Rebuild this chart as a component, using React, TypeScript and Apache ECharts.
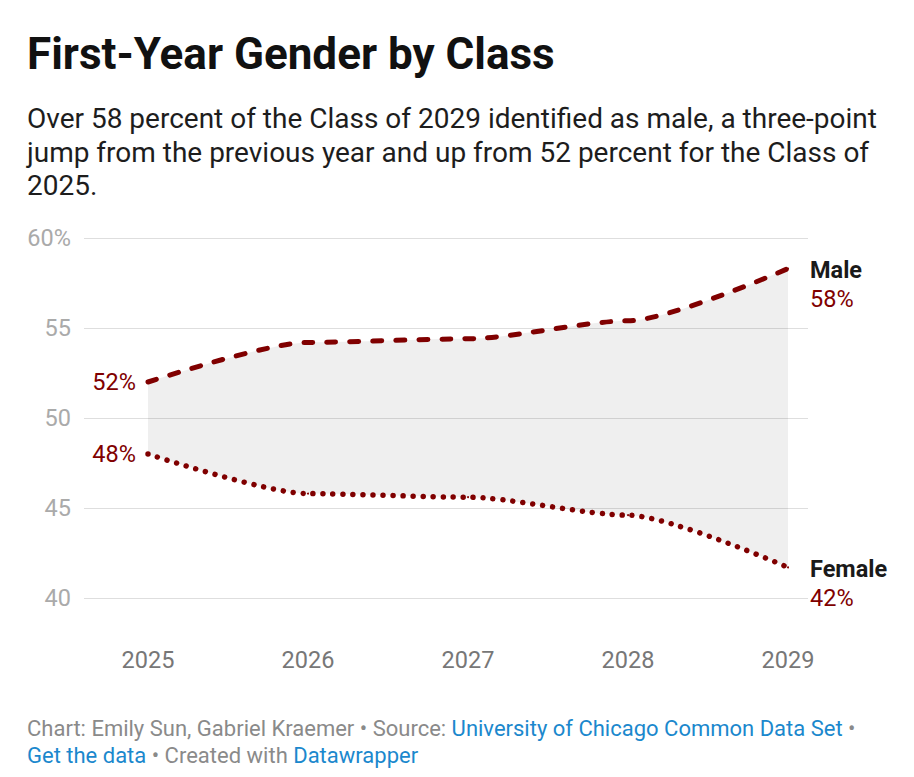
import { useEffect, useRef } from "react";
import * as echarts from "echarts";

// Class years on the x axis
const years = ["2025", "2026", "2027", "2028", "2029"];
// Share of the first-year class, percent
const male = [52.0, 54.2, 54.4, 55.4, 58.3];
const female = [48.0, 45.8, 45.6, 44.6, 41.7];
// Value axis range and step
const yMin = 40;
const yMax = 60;
const yStep = 5;

const titleText = "First-Year Gender by Class";
const subtitleText =
  "Over 58 percent of the Class of 2029 identified as male, a three-point\njump from the previous year and up from 52 percent for the Class of\n2025.";

const FONT = "Roboto, 'Noto Sans', sans-serif";
const RED = "#800000";
const LABEL_SIZE = 23.5;
const SMOOTH = 0.25;

function pointLabels(values: number[], name: string) {
  const last = values.length - 1;
  return values.map((v, i) => {
    if (i === 0) {
      return {
        value: v,
        label: {
          show: true,
          position: "left",
          distance: 11,
          formatter: `${Math.round(v)}%`,
          color: RED,
          fontSize: LABEL_SIZE,
          fontFamily: FONT,
        },
      };
    }
    if (i === last) {
      return {
        value: v,
        label: {
          show: true,
          position: "right",
          distance: 21,
          offset: [0, 16],
          align: "left",
          formatter: `{n|${name}}\n{v|${Math.round(v)}%}`,
          rich: {
            n: { fontFamily: FONT, fontSize: LABEL_SIZE, fontWeight: "bold", color: "#1a1a1a", lineHeight: 29 },
            v: { fontFamily: FONT, fontSize: LABEL_SIZE, color: RED, lineHeight: 29 },
          },
        },
      };
    }
    return { value: v };
  });
}

export default function App() {
  const ref = useRef<HTMLDivElement>(null);

  useEffect(() => {
    if (!ref.current) return;
    const chart = echarts.init(ref.current, undefined, { renderer: "svg" });
    const gap = male.map((m, i) => Math.round((m - female[i]) * 10) / 10);

    chart.setOption({
      animation: false,
      backgroundColor: "#ffffff",
      title: [
        {
          text: titleText,
          left: 27,
          top: 32,
          padding: 0,
          textStyle: { fontFamily: FONT, fontWeight: "bold", fontSize: 44, lineHeight: 44, color: "#111111" },
        },
        {
          text: subtitleText,
          left: 27,
          top: 102,
          padding: 0,
          textStyle: { fontFamily: FONT, fontWeight: "normal", fontSize: 28, lineHeight: 33.5, color: "#1d1d1d" },
        },
        {
          text:
            "{g|Chart: Emily Sun, Gabriel Kraemer • Source: }{b|University of Chicago Common Data Set}{g| •}\n{b|Get the data}{g| • Created with }{b|Datawrapper}",
          left: 27,
          top: 715,
          padding: 0,
          textStyle: {
            fontFamily: FONT,
            fontWeight: "normal",
            rich: {
              g: { fontFamily: FONT, fontSize: 22, color: "#8a8a8a", lineHeight: 27 },
              b: { fontFamily: FONT, fontSize: 22, color: "#1b88cd", lineHeight: 27 },
            },
          },
        },
      ],
      grid: [
        // wide grid carrying the gridlines and value labels
        { left: 84, right: 106, top: 238, height: 360 },
        // data grid
        { left: 148, right: 126, top: 238, height: 360 },
      ],
      xAxis: [
        { type: "category", gridIndex: 0, data: years, show: false },
        {
          type: "category",
          gridIndex: 1,
          data: years,
          boundaryGap: false,
          axisLine: { show: false },
          axisTick: { show: false },
          splitLine: { show: false },
          axisLabel: { color: "#777777", fontSize: LABEL_SIZE, fontFamily: FONT, margin: 50 },
        },
      ],
      yAxis: [
        {
          type: "value",
          gridIndex: 0,
          min: yMin,
          max: yMax,
          interval: yStep,
          axisLine: { show: false },
          axisTick: { show: false },
          splitLine: { lineStyle: { color: "#dedede", width: 1 } },
          axisLabel: {
            color: "#aaaaaa",
            fontSize: LABEL_SIZE,
            fontFamily: FONT,
            margin: 13,
            formatter: (v: number) => (v === yMax ? `${v}%` : `${v}`),
          },
        },
        {
          type: "value",
          gridIndex: 1,
          min: yMin,
          max: yMax,
          interval: yStep,
          show: false,
          splitLine: { show: false },
        },
      ],
      series: [
        {
          type: "line",
          xAxisIndex: 1,
          yAxisIndex: 1,
          data: female,
          stack: "band",
          smooth: SMOOTH,
          smoothMonotone: "x",
          symbol: "none",
          silent: true,
          lineStyle: { opacity: 0, width: 0 },
        },
        {
          type: "line",
          xAxisIndex: 1,
          yAxisIndex: 1,
          data: gap,
          stack: "band",
          smooth: SMOOTH,
          smoothMonotone: "x",
          symbol: "none",
          silent: true,
          lineStyle: { opacity: 0, width: 0 },
          areaStyle: { color: "rgba(0,0,0,0.063)", opacity: 1 },
        },
        {
          name: "Female",
          type: "line",
          xAxisIndex: 1,
          yAxisIndex: 1,
          data: pointLabels(female, "Female"),
          smooth: SMOOTH,
          smoothMonotone: "x",
          symbol: "circle",
          symbolSize: 2,
          itemStyle: { color: RED },
          silent: true,
          lineStyle: { color: RED, width: 5.5, type: [0.01, 10], cap: "round" },
        },
        {
          name: "Male",
          type: "line",
          xAxisIndex: 1,
          yAxisIndex: 1,
          data: pointLabels(male, "Male"),
          smooth: SMOOTH,
          smoothMonotone: "x",
          symbol: "circle",
          symbolSize: 2,
          itemStyle: { color: RED },
          silent: true,
          lineStyle: { color: RED, width: 5, type: [9, 14], cap: "round" },
        },
      ],
    });

    return () => chart.dispose();
  }, []);

  return (
    <div
      ref={ref}
      style={{ position: "fixed", left: 0, top: 0, width: 914, height: 777 }}
    />
  );
}
